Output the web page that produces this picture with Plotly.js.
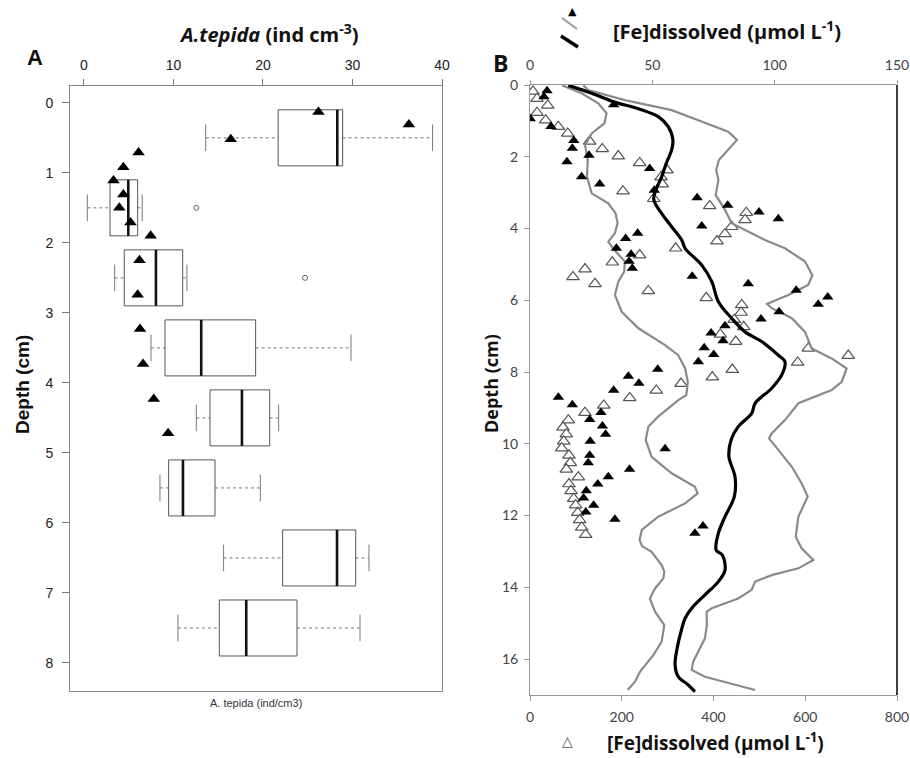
<!DOCTYPE html>
<html><head><meta charset="utf-8">
<script src="https://cdn.plot.ly/plotly-3.0.1.min.js"></script>
<style>html,body{margin:0;padding:0;background:#fff}#chart{width:910px;height:758px}</style>
</head><body><div id="chart"></div>
<script>
// ---------- Panel A : A. tepida boxplots by depth ----------
const boxDepth = [0.5, 1.5, 2.5, 3.5, 4.5, 5.5, 6.5, 7.5];
const boxLow   = [13.6, 0.37, 3.43, 7.49, 12.55, 8.49, 15.6, 10.5];
const boxQ1    = [21.7, 2.91, 4.5, 9.05, 14.08, 9.46, 22.2, 15.12];
const boxMed   = [28.3, 4.95, 8.04, 13.1, 17.65, 11.06, 28.27, 18.13];
const boxQ3    = [28.9, 6.0, 11.03, 19.18, 20.75, 14.64, 30.36, 23.8];
const boxHigh  = [38.95, 6.51, 11.5, 29.83, 21.75, 19.7, 31.84, 30.84];
const outlierVal   = [12.55, 24.7];
const outlierDepth = [1.5, 2.5];
// filled triangles (top axis, ind cm-3)
const triAVal   = [26.2, 36.3, 16.4, 6.1, 4.4, 3.3, 4.4, 3.95, 5.2, 7.45, 6.2, 6.0, 6.26, 6.6, 7.8, 9.4];
const triADepth = [0.13, 0.31, 0.52, 0.71, 0.92, 1.11, 1.31, 1.5, 1.71, 1.9, 2.25, 2.74, 3.23, 3.73, 4.23, 4.72];
const tickA = [0, 10, 20, 30, 40];
const depthTicksA = [0, 1, 2, 3, 4, 5, 6, 7, 8];

// ---------- Panel B : dissolved Fe ----------
// filled triangles (top axis 0-150)
const feFilledVal = [6.95, 5.7, 34.2, 0.1, 8.6, 17.9, 17.3, 24.1, 15.1, 48.9, 21.1, 28.5, 50.8, 68.3, 80.8, 93.6, 101.5, 70.2, 44.0, 39.1,
  35.3, 41.3, 40.5, 41.8, 66.3, 89.2, 108.8, 121.7, 117.8, 101.8, 94.4, 79.7, 74.0, 78.9, 71.2, 75.1, 68.8, 52.2, 40.2, 44.5,
  34.2, 11.6, 17.3, 29.0, 24.4, 29.6, 30.9, 24.6, 55.2, 24.4, 23.8, 40.7, 32.0, 27.7, 23.0, 21.9, 26.0, 22.8, 34.7, 70.7, 67.4];
const feFilledDepth = [0.16, 0.33, 0.55, 0.94, 1.16, 1.55, 1.76, 1.96, 2.14, 2.33, 2.56, 2.76, 2.93, 3.14, 3.35, 3.54, 3.73, 3.93, 4.13, 4.28,
  4.55, 4.72, 4.91, 5.11, 5.33, 5.54, 5.72, 5.91, 6.11, 6.32, 6.52, 6.71, 6.91, 7.13, 7.32, 7.51, 7.71, 7.92, 8.12, 8.31,
  8.51, 8.7, 8.91, 9.13, 9.32, 9.5, 9.73, 9.93, 10.14, 10.32, 10.53, 10.71, 10.92, 11.12, 11.31, 11.51, 11.71, 11.9, 12.1, 12.29, 12.49];
// open triangles (bottom axis 0-800)
const feOpenVal = [6.5, 15.3, 38.6, 15.3, 34.2, 61.7, 82.2, 130.1, 157.6, 192.5, 239.1, 298.6, 285.6, 288.4, 202.7, 269.6, 391.7, 471.5, 468.7, 439.7,
  425.1, 407.6, 317.6, 239.1, 179.4, 119.9, 93.7, 141.7, 257.9, 384.3, 461.5, 460, 445.3, 465.8, 414.8, 448.4, 606.6, 693.8, 583.5, 441.0,
  397.4, 329.2, 275.3, 217.3, 160.7, 119.9, 83.5, 71.9, 79.1, 73.5, 69.1, 85.0, 87.8, 79.1, 105.3, 85.0, 89.4, 95.3, 99.6, 104.0, 108.3, 112.7, 121.4];
const feOpenDepth = [0.18, 0.38, 0.57, 0.77, 0.98, 1.16, 1.35, 1.57, 1.78, 1.98, 2.17, 2.37, 2.57, 2.76, 2.96, 3.17, 3.37, 3.56, 3.76, 3.95,
  4.15, 4.35, 4.55, 4.74, 4.94, 5.13, 5.35, 5.54, 5.74, 5.93, 6.13, 6.34, 6.54, 6.74, 6.95, 7.15, 7.34, 7.54, 7.73, 7.93,
  8.14, 8.32, 8.51, 8.72, 8.93, 9.13, 9.34, 9.54, 9.73, 9.93, 10.12, 10.32, 10.53, 10.71, 10.93, 11.12, 11.31, 11.53, 11.71, 11.92, 12.12, 12.33, 12.53];
// mean profile (black) on top axis
const meanVal = [15.65, 25.2, 34.2, 44.3, 52.4, 56.5, 58.4, 57.9, 55.7, 53.8, 51.4, 50.6, 53.8, 57.9, 62.0, 63.4, 70.2, 74.3, 77.0, 82.4,
  87.9, 94.7, 101.5, 104.2, 102.9, 98.8, 92.0, 90.6, 85.1, 82.2, 81.3, 83.8, 83.5, 79.7, 77.0, 76.1, 78.6, 79.7, 77.0, 71.5,
  66.1, 63.4, 61.7, 60.4, 59.3, 60.6, 64.7, 67.4];
const meanDepth = [0.01, 0.23, 0.47, 0.66, 0.88, 1.16, 1.53, 1.81, 2.18, 2.56, 2.93, 3.2, 3.58, 3.95, 4.32, 4.55, 5.02, 5.48, 6.04, 6.5,
  6.88, 7.15, 7.53, 7.71, 8.08, 8.45, 8.87, 9.15, 9.52, 9.89, 10.36, 10.92, 11.47, 12.03, 12.49, 12.96, 13.1, 13.52, 13.84, 14.21,
  14.58, 14.86, 15.24, 15.61, 16.16, 16.49, 16.72, 16.91];
// lower envelope (grey)
const lowVal = [13.2, 21.1, 27.9, 31.3, 30.4, 25.2, 22.5, 23.6, 23.3, 25.2, 32.0, 35.0, 35.8, 34.7, 32.0, 34.5, 38.8, 38.5, 36.1, 34.7,
  37.5, 44.3, 55.2, 60.6, 63.4, 64.5, 63.9, 60.6, 52.4, 48.4, 47.3, 49.7, 57.9, 67.4, 68.5, 63.4, 52.4, 45.7, 44.8, 45.8,
  49.7, 53.8, 54.9, 54.5, 51.1, 49.0, 51.1, 54.9, 53.8, 50.4, 45.0, 42.9, 39.9];
const lowDepth = [0.01, 0.23, 0.51, 0.79, 1.07, 1.35, 1.67, 2.09, 2.56, 3.02, 3.3, 3.58, 3.85, 4.13, 4.37, 4.6, 4.92, 5.2, 5.48, 5.85,
  6.32, 6.78, 7.25, 7.53, 7.9, 8.27, 8.64, 8.78, 9.24, 9.52, 9.89, 10.36, 10.82, 11.2, 11.38, 11.66, 12.03, 12.4, 12.68, 12.85,
  13.01, 13.38, 13.56, 13.75, 14.03, 14.31, 14.68, 15.05, 15.52, 15.89, 16.35, 16.63, 16.86];
// upper envelope (grey)
const highVal = [21.8, 23.8, 38.8, 57.9, 68.8, 81.0, 84.6, 81.0, 77.2, 76.1, 77.0, 75.9, 79.7, 82.4, 87.9, 96.0, 104.2, 112.4, 115.4, 113.7,
  105.6, 96.9, 98.8, 107.0, 112.4, 115.1, 123.3, 129.4, 127.4, 123.3, 109.7, 104.2, 98.8, 97.7, 101.5, 107.0, 111.0, 113.5, 109.7, 108.6,
  111.0, 112.4, 115.8, 109.7, 98.8, 92.0, 90.6, 85.1, 74.3, 72.2, 72.3, 71.5, 68.8, 66.7, 66.1, 71.5, 92.0];
const highDepth = [0.01, 0.14, 0.42, 0.7, 0.98, 1.3, 1.53, 1.81, 2.09, 2.37, 2.65, 3.07, 3.48, 3.85, 4.04, 4.32, 4.55, 4.92, 5.3, 5.57,
  5.85, 6.1, 6.22, 6.5, 6.88, 7.34, 7.62, 7.9, 8.27, 8.5, 8.87, 9.34, 9.71, 9.85, 10.17, 10.64, 11.1, 11.47, 12.03, 12.59,
  12.91, 13.01, 13.24, 13.47, 13.66, 13.84, 14.07, 14.31, 14.58, 14.68, 15.05, 15.42, 15.79, 16.07, 16.3, 16.49, 16.86];
const tickBTop = [0, 50, 100, 150];
const tickBBottom = [0, 200, 400, 600, 800];
const depthTicksB = [0, 2, 4, 6, 8, 10, 12, 14, 16];

// ---------- build box geometry from the arrays ----------
const HALF = 0.4, CAP = 0.19;
const bx = [], by = [], mx = [], my = [], wx = [], wy = [], cx = [], cy = [];
boxDepth.forEach((d, i) => {
  bx.push(boxQ1[i], boxQ3[i], boxQ3[i], boxQ1[i], boxQ1[i], null);
  by.push(d - HALF, d - HALF, d + HALF, d + HALF, d - HALF, null);
  mx.push(boxMed[i], boxMed[i], null); my.push(d - HALF, d + HALF, null);
  wx.push(boxLow[i], boxQ1[i], null, boxQ3[i], boxHigh[i], null);
  wy.push(d, d, null, d, d, null);
  cx.push(boxLow[i], boxLow[i], null, boxHigh[i], boxHigh[i], null);
  cy.push(d - CAP, d + CAP, null, d - CAP, d + CAP, null);
});

const traces = [
  {x: wx, y: wy, xaxis: 'x', yaxis: 'y', mode: 'lines', line: {color: '#777', width: 1, dash: 'dot'}, hoverinfo: 'skip'},
  {x: cx, y: cy, xaxis: 'x', yaxis: 'y', mode: 'lines', line: {color: '#777', width: 1}, hoverinfo: 'skip'},
  {x: bx, y: by, xaxis: 'x', yaxis: 'y', mode: 'lines', line: {color: '#555', width: 1}, hoverinfo: 'skip'},
  {x: mx, y: my, xaxis: 'x', yaxis: 'y', mode: 'lines', line: {color: '#111', width: 2.6}, hoverinfo: 'skip'},
  {x: outlierVal, y: outlierDepth, xaxis: 'x', yaxis: 'y', mode: 'markers',
   marker: {symbol: 'circle-open', size: 5, color: '#666', line: {width: 1}}},
  {x: triAVal, y: triADepth, xaxis: 'x', yaxis: 'y', mode: 'markers',
   marker: {symbol: 'triangle-up', size: 11, color: '#000'}},
  // panel B
  {x: lowVal, y: lowDepth, xaxis: 'x3', yaxis: 'y2', mode: 'lines', line: {color: '#8a8a8a', width: 2.2}},
  {x: highVal, y: highDepth, xaxis: 'x3', yaxis: 'y2', mode: 'lines', line: {color: '#8a8a8a', width: 2.2}},
  {x: meanVal, y: meanDepth, xaxis: 'x3', yaxis: 'y2', mode: 'lines', line: {color: '#000', width: 3.2, shape: 'spline'}},
  {x: feOpenVal, y: feOpenDepth, xaxis: 'x2', yaxis: 'y2', mode: 'markers',
   marker: {symbol: 'triangle-up', size: 11, color: '#fff', line: {color: '#555', width: 1.2}}},
  {x: feFilledVal, y: feFilledDepth, xaxis: 'x3', yaxis: 'y2', mode: 'markers',
   marker: {symbol: 'triangle-up', size: 10, color: '#000'}}
];

const W = 910, H = 758;
const px = v => v / W, py = v => 1 - v / H;
const fA = {family: 'Liberation Sans, Arial, sans-serif', size: 14, color: '#222'};
const fB = {family: 'Lato, Liberation Sans, sans-serif', size: 14, color: '#444'};
const fT = 'Liberation Sans, Arial, sans-serif';
const fO = 'Open Sans, Liberation Sans, sans-serif';

const layout = {
  width: W, height: H, margin: {l: 0, r: 0, t: 0, b: 0},
  paper_bgcolor: '#fff', plot_bgcolor: '#fff', showlegend: false,
  xaxis: {domain: [px(70), px(442)], anchor: 'y', side: 'top', range: [-1.56, 40],
    tickvals: tickA, ticks: 'outside', ticklen: 6, tickcolor: '#777', ticklabelstandoff: 3,
    showline: true, mirror: true, linecolor: '#888', linewidth: 1,
    showgrid: false, zeroline: false, tickfont: fA},
  yaxis: {domain: [py(691), py(86)], anchor: 'x', range: [8.40, -0.24],
    tickvals: depthTicksA, ticks: 'outside', ticklen: 7, tickcolor: '#777', ticklabelstandoff: 6,
    showline: true, mirror: true, linecolor: '#888', linewidth: 1,
    showgrid: false, zeroline: false, tickfont: fA},
  xaxis2: {domain: [px(530), px(897)], anchor: 'y2', range: [0, 800],
    tickvals: tickBBottom, ticks: 'outside', ticklen: 5, tickcolor: '#999', ticklabelstandoff: 4,
    showline: true, linecolor: '#999', linewidth: 1,
    showgrid: false, zeroline: false, tickfont: fB},
  xaxis3: {overlaying: 'x2', anchor: 'y2', side: 'top', range: [0, 150],
    tickvals: tickBTop, ticks: 'outside', ticklen: 4, tickcolor: '#999', ticklabelstandoff: 4,
    showline: true, linecolor: '#999', linewidth: 1,
    showgrid: false, zeroline: false, tickfont: fB},
  yaxis2: {domain: [py(695), py(85)], anchor: 'x2', range: [17, 0],
    tickvals: depthTicksB, ticks: 'outside', ticklen: 5, tickcolor: '#999', ticklabelstandoff: 3,
    showline: true, linecolor: '#999', linewidth: 1,
    showgrid: false, zeroline: false, tickfont: fB},
  shapes: [
    {type: 'line', xref: 'paper', yref: 'paper', x0: px(897), x1: px(897), y0: py(695), y1: py(85), line: {color: '#000', width: 1.5}},
    {type: 'line', xref: 'paper', yref: 'paper', x0: px(562), y0: py(18), x1: px(577), y1: py(29), line: {color: '#999', width: 2}},
    {type: 'line', xref: 'paper', yref: 'paper', x0: px(561), y0: py(36), x1: px(578), y1: py(47), line: {color: '#000', width: 3.5}}
  ],
  annotations: [
    {text: '<b><i>A.tepida</i> (ind cm<sup>-3</sup>)</b>', x: px(269), y: py(33), xref: 'paper', yref: 'paper', showarrow: false,
     xanchor: 'center', yanchor: 'middle', font: {family: fO, size: 20, color: '#111'}},
    {text: '<b>A</b>', x: px(35), y: py(58), xref: 'paper', yref: 'paper', showarrow: false,
     xanchor: 'center', yanchor: 'middle', font: {family: fT, size: 22, color: '#111'}},
    {text: '<b>B</b>', x: px(500), y: py(63), xref: 'paper', yref: 'paper', showarrow: false,
     xanchor: 'center', yanchor: 'middle', font: {family: fO, size: 23, color: '#111'}},
    {text: '<b>Depth (cm)</b>', x: px(22), y: py(385), xref: 'paper', yref: 'paper', showarrow: false, textangle: -90,
     xanchor: 'center', yanchor: 'middle', font: {family: fT, size: 19, color: '#111'}},
    {text: '<b>Depth (cm)</b>', x: px(491), y: py(384), xref: 'paper', yref: 'paper', showarrow: false, textangle: -90,
     xanchor: 'center', yanchor: 'middle', font: {family: fO, size: 18, color: '#111'}},
    {text: 'A. tepida (ind/cm3)', x: px(256), y: py(703), xref: 'paper', yref: 'paper', showarrow: false,
     xanchor: 'center', yanchor: 'middle', font: {family: fT, size: 11, color: '#333'}},
    {text: '<b>[Fe]dissolved (µmol L<sup>-1</sup>)</b>', x: px(727), y: py(30), xref: 'paper', yref: 'paper', showarrow: false,
     xanchor: 'center', yanchor: 'middle', font: {family: fO, size: 20, color: '#111'}},
    {text: '▲', x: px(572), y: py(11), xref: 'paper', yref: 'paper', showarrow: false,
     xanchor: 'center', yanchor: 'middle', font: {family: 'DejaVu Sans, sans-serif', size: 11, color: '#000'}},
    {text: '<b>[Fe]dissolved (µmol L<sup>-1</sup>)</b>', x: px(715), y: py(742), xref: 'paper', yref: 'paper', showarrow: false,
     xanchor: 'center', yanchor: 'middle', font: {family: fO, size: 19, color: '#111'}},
    {text: '△', x: px(567), y: py(741), xref: 'paper', yref: 'paper', showarrow: false,
     xanchor: 'center', yanchor: 'middle', font: {family: 'DejaVu Sans, sans-serif', size: 14, color: '#555'}}
  ]
};

Plotly.newPlot('chart', traces, layout, {displayModeBar: false, staticPlot: true});
</script>
</body></html>
